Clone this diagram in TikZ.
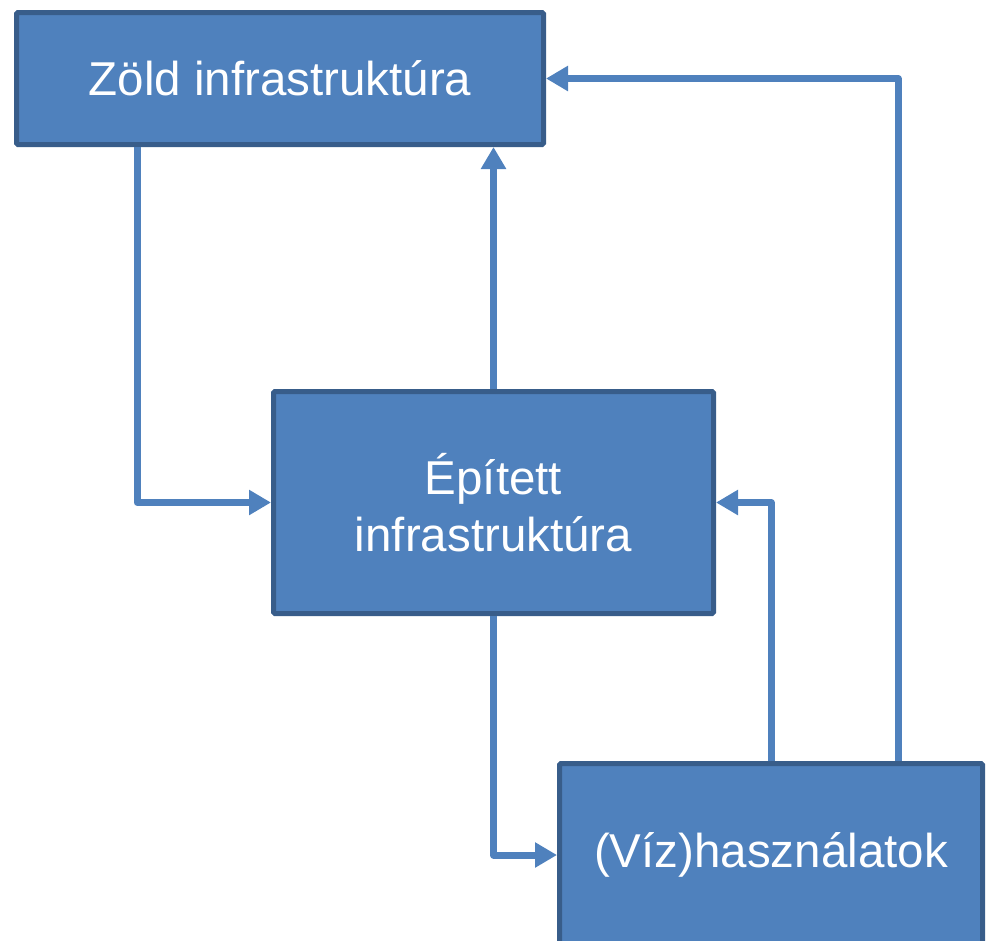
\documentclass[tikz,border=0pt]{standalone}
\usepackage{fontspec}
\setmainfont{Liberation Sans}
\usepackage{xcolor}
\usepackage{tikz}
\usetikzlibrary{positioning,arrows.meta}
\definecolor{boxfill}{HTML}{4F81BD}
\definecolor{boxline}{HTML}{385D8A}

\begin{document}
\begin{tikzpicture}[x=1pt, y=-1pt,
            every node/.append style = {rectangle, fill=boxfill, draw=boxline, line width=5pt,
                rounded corners=1.5pt, text=white, align=center, font=\fontsize{47.5}{57}\selectfont},
            link/.style = {draw=boxfill, line width=7pt, line join=round,
                -{Triangle[length=22pt,width=24pt]}}]
        \useasboundingbox (0,0) rectangle (990,940);
        \node[minimum width=527pt, minimum height=132pt] (nzold) at (280,78.5) {Zöld infrastruktúra};
        \node[minimum width=440pt, minimum height=222pt] (nepit) at (493.5,502.5) {Épített\\infrastruktúra};
        \node[minimum width=423pt, minimum height=183pt] (nhasz) at (771,855) {(Víz)használatok};
        \draw[link] ([xshift=-143pt]nzold.south) |- (nepit.west);
        \draw[link] (nepit.north) -- (nepit.north |- nzold.south);
        \draw[link] ([xshift=127pt]nhasz.north) |- (nzold.east);
        \draw[link] (nhasz.north) |- (nepit.east);
        \draw[link] (nepit.south) |- (nhasz.west);
        \end{tikzpicture}
\end{document}
